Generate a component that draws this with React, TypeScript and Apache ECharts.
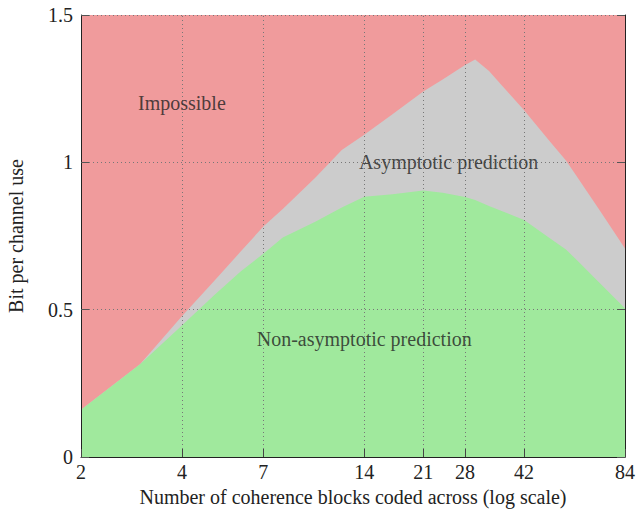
import React, { useEffect, useRef } from "react";
import * as echarts from "echarts";

// Number of coherence blocks coded across
const xBlocks = [2, 3, 4, 5, 6, 7, 8, 10, 12, 14, 17, 21, 24, 28, 30, 33, 36, 42, 50, 56, 60, 70, 84];
// Asymptotic prediction (upper boundary)
const asymptotic = [0.16, 0.315, 0.478, 0.598, 0.698, 0.782, 0.842, 0.948, 1.042, 1.094, 1.163, 1.24, 1.281, 1.33, 1.349, 1.31, 1.262, 1.177, 1.072, 1.006, 0.956, 0.843, 0.708];
// Non-asymptotic prediction (lower boundary)
const nonAsymptotic = [0.16, 0.315, 0.446, 0.55, 0.63, 0.69, 0.745, 0.798, 0.847, 0.883, 0.892, 0.904, 0.897, 0.882, 0.872, 0.852, 0.835, 0.804, 0.743, 0.704, 0.671, 0.595, 0.505];

const xTickValues = [2, 4, 7, 14, 21, 28, 42, 84];
const yTickValues = [0, 0.5, 1, 1.5];
const yMax = 1.5;

const regionNames = ["Impossible", "Asymptotic prediction", "Non-asymptotic prediction"];
const regionAnchorX = [4, 25, 14];
const regionAnchorY = [1.2, 1.0, 0.4];

export default function App() {
  const ref = useRef<HTMLDivElement>(null);
  useEffect(() => {
    const chart = echarts.init(ref.current!, null, { renderer: "svg" });
    const font = "Liberation Serif";
    const fs = 20;
    const txt = "#222";
    const gridStyle = { type: [1, 3], color: "#777", width: 1 };
    const ts = { fontFamily: font, fontSize: fs, color: txt };
    chart.setOption({
      animation: false,
      textStyle: { fontFamily: font },
      grid: { left: 81, right: 11, top: 15, bottom: 52, containLabel: false, outerBoundsMode: "none" },
      xAxis: [
        {
          type: "log",
          logBase: 10,
          min: 2,
          max: 84,
          z: 10,
          name: "Number of coherence blocks coded across (log scale)",
          nameLocation: "middle",
          nameGap: 30,
          nameTextStyle: ts,
          axisLine: { show: true, onZero: false, lineStyle: { color: "#222", width: 1 } },
          axisTick: { show: true, inside: true, length: 8, customValues: xTickValues, lineStyle: { color: "#444" } },
          axisLabel: { customValues: xTickValues, ...ts, margin: 5, formatter: (v: number) => String(Math.round(v)) },
          splitLine: { show: false },
          minorTick: { show: false },
          minorSplitLine: { show: false },
        },
      ],
      yAxis: [
        {
          type: "value",
          min: 0,
          max: yMax,
          interval: 0.5,
          z: 10,
          name: "Bit per channel use",
          nameLocation: "middle",
          nameGap: 55,
          nameTextStyle: ts,
          axisLine: { show: true, lineStyle: { color: "#222", width: 1 } },
          axisTick: { show: true, inside: true, length: 8, lineStyle: { color: "#555" } },
          axisLabel: { ...ts, margin: 8 },
          splitLine: { show: false },
        },
        {
          type: "value",
          min: 0,
          max: yMax,
          interval: 0.5,
          position: "right",
          z: 10,
          axisLine: { show: true, lineStyle: { color: "#222", width: 1 } },
          axisTick: { show: true, inside: true, length: 8, lineStyle: { color: "#555" } },
          axisLabel: { show: false },
          splitLine: { show: false },
        },
      ],
      series: [
        {
          name: "Impossible",
          type: "line",
          data: [[xBlocks[0], yMax], [xBlocks[xBlocks.length - 1], yMax]],
          showSymbol: false,
          lineStyle: { width: 0 },
          areaStyle: { color: "#F09B9C", opacity: 1 },
          z: 1,
          silent: true,
        },
        {
          name: "Asymptotic prediction",
          type: "line",
          data: xBlocks.map((x, i) => [x, asymptotic[i]]),
          showSymbol: false,
          lineStyle: { width: 0 },
          areaStyle: { color: "#CCCCCC", opacity: 1 },
          z: 2,
          silent: true,
        },
        {
          name: "Non-asymptotic prediction",
          type: "line",
          data: xBlocks.map((x, i) => [x, nonAsymptotic[i]]),
          showSymbol: false,
          lineStyle: { width: 0 },
          areaStyle: { color: "#A0E99D", opacity: 1 },
          z: 3,
          silent: true,
          markLine: {
            silent: true,
            symbol: ["none", "none"],
            label: { show: false },
            lineStyle: gridStyle,
            data: [
              ...xTickValues.slice(1, -1).map((v) => ({ xAxis: v })),
              ...yTickValues.slice(1).map((v) => ({ yAxis: v })),
            ],
          },
        },
        {
          name: "labels",
          type: "scatter",
          symbolSize: 0,
          z: 6,
          silent: true,
          data: regionNames.map((n, i) => [regionAnchorX[i], regionAnchorY[i], n]),
          label: {
            show: true,
            position: "inside",
            formatter: (p: any) => p.value[2],
            ...ts,
          },
        },
      ],
    });
    return () => chart.dispose();
  }, []);
  return <div ref={ref} style={{ position: "absolute", left: 0, top: 0, width: 636, height: 509 }} />;
}
